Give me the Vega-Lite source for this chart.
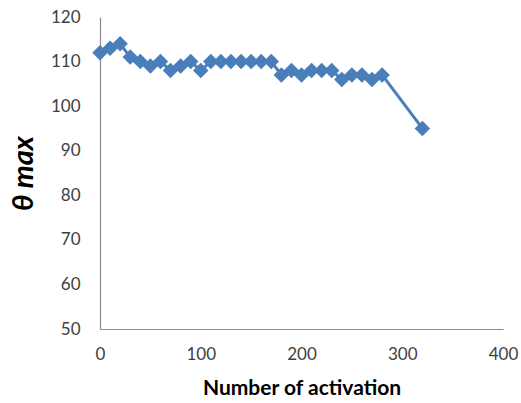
{
  "$schema": "https://vega.github.io/schema/vega-lite/v6.json",
  "autosize": "none",
  "width": 403,
  "height": 312,
  "padding": {"left": 100, "top": 17, "right": 18, "bottom": 74},
  "background": "white",
  "config": {"view": {"stroke": null}},
  "data": {"values": [
    {"n": 0, "theta": 112}, {"n": 10, "theta": 113}, {"n": 20, "theta": 114},
    {"n": 30, "theta": 111}, {"n": 40, "theta": 110}, {"n": 50, "theta": 109},
    {"n": 60, "theta": 110}, {"n": 70, "theta": 108}, {"n": 80, "theta": 109},
    {"n": 90, "theta": 110}, {"n": 100, "theta": 108}, {"n": 110, "theta": 110},
    {"n": 120, "theta": 110}, {"n": 130, "theta": 110}, {"n": 140, "theta": 110},
    {"n": 150, "theta": 110}, {"n": 160, "theta": 110}, {"n": 170, "theta": 110},
    {"n": 180, "theta": 107}, {"n": 190, "theta": 108}, {"n": 200, "theta": 107},
    {"n": 210, "theta": 108}, {"n": 220, "theta": 108}, {"n": 230, "theta": 108},
    {"n": 240, "theta": 106}, {"n": 250, "theta": 107}, {"n": 260, "theta": 107},
    {"n": 270, "theta": 106}, {"n": 280, "theta": 107}, {"n": 320, "theta": 95}
  ]},
  "encoding": {
    "x": {
      "field": "n", "type": "quantitative",
      "scale": {"domain": [0, 400], "nice": false},
      "axis": {
        "title": "Number of activation", "values": [0, 100, 200, 300, 400],
        "grid": false, "ticks": false, "domainColor": "#8c8c8c", "domainWidth": 1.2,
        "labelFont": "Lato", "labelFontSize": 17, "labelColor": "#404040", "labelPadding": 17,
        "titleFont": "Lato", "titleFontSize": 21, "titleFontWeight": "bold", "titleColor": "#000000",
        "titlePadding": 15, "labelFlush": false
      }
    },
    "y": {
      "field": "theta", "type": "quantitative",
      "scale": {"domain": [50, 120], "nice": false, "zero": false},
      "axis": {
        "title": "θ max", "values": [50, 60, 70, 80, 90, 100, 110, 120],
        "grid": false, "ticks": false, "domainColor": "#8c8c8c", "domainWidth": 1.2,
        "labelFont": "Lato", "labelFontSize": 17, "labelColor": "#404040", "labelPadding": 20,
        "titleFont": "Lato", "titleFontSize": 29, "titleFontWeight": "bold", "titleFontStyle": "italic",
        "titleColor": "#000000", "titlePadding": 12, "labelFlush": false
      }
    }
  },
  "layer": [
    {"mark": {"type": "line", "color": "#4a7ebb", "strokeWidth": 3}},
    {"mark": {"type": "point", "shape": "diamond", "filled": true, "color": "#4a7ebb", "opacity": 1, "size": 240}}
  ]
}
